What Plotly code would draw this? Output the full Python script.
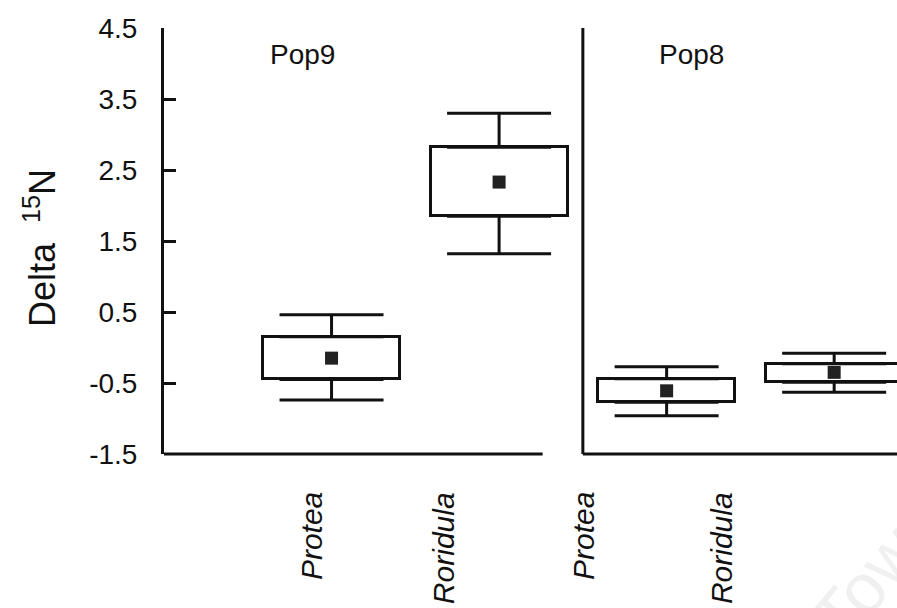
import plotly.graph_objects as go

# ---- data ----
groups = ["Pop9", "Pop8"]
species = ["Protea", "Roridula", "Protea", "Roridula"]
positions = [1, 2, 3, 4]
mean_vals = [-0.15, 2.33, -0.61, -0.35]
q1_vals = [-0.45, 1.85, -0.77, -0.49]
q3_vals = [0.15, 2.82, -0.44, -0.23]
low_vals = [-0.74, 1.32, -0.96, -0.63]
high_vals = [0.46, 3.30, -0.27, -0.08]
ytick_vals = [-1.5, -0.5, 0.5, 1.5, 2.5, 3.5, 4.5]

# ---- layout parameters ----
XMAX = 4.375
DIVIDER = 2.5
LEFT_AXIS_END = 2.26
label_pos = [0.884, 1.672, 2.507, 3.331]
group_label_pos = [0.824, 3.15]
group_label_y = 4.12
FONT = "Liberation Sans, Arial, sans-serif"
INK = "#111111"

fig = go.Figure()

# boxes (q1..q3)
fig.add_trace(go.Bar(
    x=positions,
    y=[h - l for h, l in zip(q3_vals, q1_vals)],
    base=q1_vals,
    width=0.818,
    marker=dict(color="white", line=dict(color=INK, width=3)),
    hoverinfo="skip",
    showlegend=False,
))

# upper whiskers
fig.add_trace(go.Scatter(
    x=positions, y=q3_vals, mode="markers",
    marker=dict(size=1, color="rgba(0,0,0,0)"),
    error_y=dict(type="data", symmetric=False,
                 array=[h - q for h, q in zip(high_vals, q3_vals)],
                 arrayminus=[0] * len(positions),
                 width=52, thickness=3, color=INK),
    hoverinfo="skip", showlegend=False,
))

# lower whiskers
fig.add_trace(go.Scatter(
    x=positions, y=q1_vals, mode="markers",
    marker=dict(size=1, color="rgba(0,0,0,0)"),
    error_y=dict(type="data", symmetric=False,
                 array=[0] * len(positions),
                 arrayminus=[q - l for q, l in zip(q1_vals, low_vals)],
                 width=52, thickness=3, color=INK),
    hoverinfo="skip", showlegend=False,
))

# mean markers
fig.add_trace(go.Scatter(
    x=positions, y=mean_vals, mode="markers",
    marker=dict(symbol="square", size=13, color="#222222"),
    showlegend=False,
))

shapes = [
    # bottom axis, left panel
    dict(type="line", xref="x domain", yref="y domain",
         x0=0, x1=LEFT_AXIS_END / XMAX, y0=0, y1=0,
         line=dict(color=INK, width=3)),
    # bottom axis, right panel
    dict(type="line", xref="x domain", yref="y domain",
         x0=DIVIDER / XMAX, x1=1, y0=0, y1=0,
         line=dict(color=INK, width=3)),
    # divider between panels
    dict(type="line", xref="x domain", yref="y domain",
         x0=DIVIDER / XMAX, x1=DIVIDER / XMAX, y0=0, y1=1,
         line=dict(color=INK, width=3)),
]

annotations = []
for name, xp in zip(species, label_pos):
    annotations.append(dict(
        text="<i>%s</i>" % name, x=xp, xref="x", y=-0.0845, yref="paper",
        xanchor="center", yanchor="top", textangle=-90, showarrow=False,
        font=dict(family=FONT, size=30, color=INK),
    ))
for name, xp in zip(groups, group_label_pos):
    annotations.append(dict(
        text=name, x=xp, xref="x", y=group_label_y, yref="y",
        xanchor="center", yanchor="middle", showarrow=False,
        font=dict(family=FONT, size=28, color=INK),
    ))
# y axis title
annotations.append(dict(
    text="Delta  <sup>15</sup>N", x=-0.169, xref="paper", y=0.4836, yref="paper",
    xanchor="center", yanchor="middle", textangle=-90, showarrow=False,
    font=dict(family=FONT, size=36, color=INK),
))
# faint watermark
annotations.append(dict(
    text="Town", x=0.975, xref="paper", y=-0.27, yref="paper",
    xanchor="center", yanchor="middle", textangle=-50, showarrow=False,
    font=dict(family=FONT, size=70, color="rgba(0,0,0,0.06)"),
))

fig.update_layout(
    width=897, height=608,
    margin=dict(l=164, r=0, t=28, b=154),
    paper_bgcolor="white", plot_bgcolor="white",
    font=dict(family=FONT, color=INK),
    bargap=0,
    xaxis=dict(range=[0, XMAX], visible=False, showgrid=False, zeroline=False),
    yaxis=dict(range=[-1.5, 4.5], tickvals=ytick_vals,
               ticktext=["%.1f" % v for v in ytick_vals],
               showline=True, linewidth=3, linecolor=INK,
               ticks="inside", ticklen=12, tickwidth=2.5, tickcolor=INK,
               ticklabelstandoff=18,
               tickfont=dict(family=FONT, size=28, color=INK),
               showgrid=False, zeroline=False),
    shapes=shapes,
    annotations=annotations,
)

fig.write_html("out.html")
